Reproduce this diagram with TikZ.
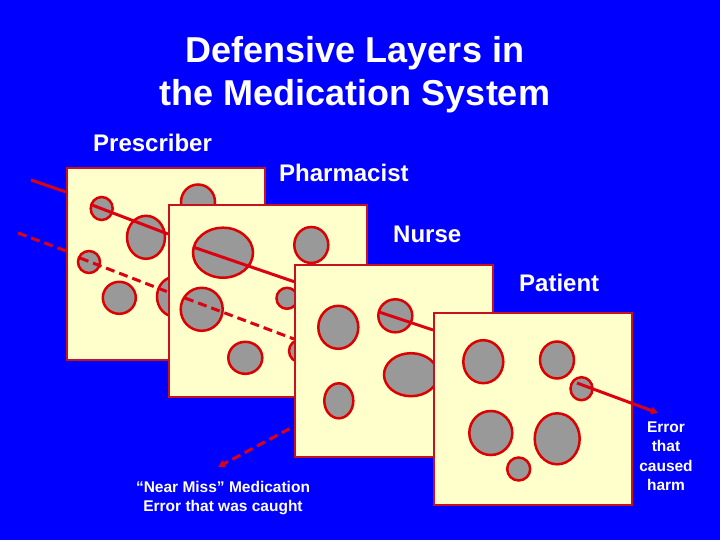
\documentclass[tikz,border=0pt]{standalone}
\usepackage{fontspec}
\setmainfont{Liberation Sans}
\usetikzlibrary{shapes.geometric,arrows.meta}
\definecolor{slideblue}{RGB}{0,0,255}
\definecolor{cheese}{RGB}{255,255,204}
\definecolor{rim}{RGB}{200,16,32}
\definecolor{holegrey}{RGB}{153,153,153}
\definecolor{holered}{RGB}{221,0,0}
\definecolor{errred}{RGB}{221,0,16}
\tikzset{
    slice/.style =      {rectangle,
                        fill=cheese,
                        draw=rim,
                        line width=2pt,
                        inner sep=0pt,
                        anchor=north west,
                        minimum width=198pt,
                        minimum height=192pt},
    hole/.style =       {ellipse,
                        fill=holegrey,
                        draw=holered,
                        line width=2.5pt,
                        inner sep=0pt},
    harmline/.style =   {draw=errred,
                        line width=3pt},
    caughtline/.style = {draw=errred,
                        line width=3pt,
                        dash pattern=on 9pt off 5pt},
    errtip/.style =     {-{Triangle[length=7pt,width=7pt]}},
    layername/.style =  {text=white,
                        font=\bfseries\fontsize{24}{29}\selectfont,
                        inner sep=0pt,
                        anchor=base west},
    note/.style =       {text=white,
                        font=\bfseries\fontsize{15.5}{19.5}\selectfont,
                        align=center,
                        anchor=base}}

\begin{document}
\begin{tikzpicture}[x=1pt,y=-1pt]
    \fill[slideblue] (0,0) rectangle (720,540);
    \useasboundingbox (0,0) rectangle (720,540);

    % base anchor sits on the last line
    \node[text=white,font=\bfseries\fontsize{36}{43}\selectfont,align=center,anchor=base]
        (title) at (355,106) {Defensive Layers in\\the Medication System};

    \node[layername] (prescriber) at (93,152)  {Prescriber};
    \node[layername] (pharmacist) at (279,182) {Pharmacist};
    \node[layername] (nurse)      at (393,243) {Nurse};
    \node[layername] (patient)    at (519,291) {Patient};

    \node[note] (nearmiss) at (223,511.7) {``Near Miss'' Medication\\Error that was caught};
    \node[note] (harm)     at (666,490.7) {Error\\that\\caused\\harm};

    % path of the error
    \coordinate (p0s) at (31,180);   \coordinate (p0e) at (66,192);
    \coordinate (p1s) at (92,205);   \coordinate (p1e) at (168,234);
    \coordinate (p2s) at (193,247);  \coordinate (p2e) at (295,282);
    \coordinate (p3s) at (379,312);  \coordinate (p3e) at (433,330);
    \coordinate (p4s) at (577,383);  \coordinate (p4e) at (658,413);
    \coordinate (q0s) at (18,233);   \coordinate (q0e) at (66,251);
    \coordinate (q1s) at (80,258);   \coordinate (q1e) at (168,292);
    \coordinate (q2s) at (185,298);  \coordinate (q2e) at (294,339);
    \coordinate (q3s) at (302,422);  \coordinate (q3e) at (218,467);

    \draw[harmline]   (p0s) -- (p0e);
    \draw[caughtline] (q0s) -- (q0e);

    % prescriber
    \node[slice] (S1) at (66,167) {};
    \node[hole, minimum width=22pt, minimum height=23pt] (h1a) at (101.7,208.5) {};
    \node[hole, minimum width=38pt, minimum height=43pt] (h1b) at (146,237.3)   {};
    \node[hole, minimum width=34pt, minimum height=35pt] (h1c) at (198,202)     {};
    \node[hole, minimum width=22pt, minimum height=22pt] (h1d) at (89,262)      {};
    \node[hole, minimum width=33pt, minimum height=32pt] (h1e) at (119.3,297.8) {};
    \node[hole, minimum width=36pt, minimum height=40pt] (h1f) at (175,296.7)   {};
    \draw[harmline]   (p1s) -- (p1e);
    \draw[caughtline] (q1s) -- (q1e);

    % pharmacist
    \node[slice] (S2) at (168,204) {};
    \node[hole, minimum width=60pt, minimum height=50pt] (h2a) at (223,252.7)   {};
    \node[hole, minimum width=34pt, minimum height=36pt] (h2b) at (311.3,245)   {};
    \node[hole, minimum width=42pt, minimum height=43pt] (h2c) at (201.7,309.3) {};
    \node[hole, minimum width=21pt, minimum height=21pt] (h2d) at (287,298.3)   {};
    \node[hole, minimum width=34pt, minimum height=32pt] (h2e) at (245.3,357.8) {};
    \node[hole, minimum width=24pt, minimum height=23pt] (h2f) at (301,351)     {};
    \draw[harmline]   (p2s) -- (p2e);
    \draw[caughtline] (q2s) -- (q2e);
    \draw[caughtline,errtip] (q3s) -- (q3e);

    % nurse
    \node[slice] (S3) at (294,264) {};
    \node[hole, minimum width=40pt, minimum height=43pt] (h3a) at (338.3,327.3) {};
    \node[hole, minimum width=34pt, minimum height=33pt] (h3b) at (395.3,315.8) {};
    \node[hole, minimum width=54pt, minimum height=43pt] (h3c) at (411,374.7)   {};
    \node[hole, minimum width=29pt, minimum height=35pt] (h3d) at (338.8,400.8) {};
    \draw[harmline] (p3s) -- (p3e);

    % patient
    \node[slice] (S4) at (433,312) {};
    \node[hole, minimum width=40pt, minimum height=43pt] (h4a) at (483.3,361.7) {};
    \node[hole, minimum width=34pt, minimum height=37pt] (h4b) at (557,360)     {};
    \node[hole, minimum width=22pt, minimum height=23pt] (h4c) at (581.5,388.7) {};
    \node[hole, minimum width=43pt, minimum height=44pt] (h4d) at (490.8,433)   {};
    \node[hole, minimum width=45pt, minimum height=51pt] (h4e) at (557.2,438.8) {};
    \node[hole, minimum width=23pt, minimum height=23pt] (h4f) at (518.7,469)   {};
    \draw[harmline,errtip] (p4s) -- (p4e);
\end{tikzpicture}
\end{document}
